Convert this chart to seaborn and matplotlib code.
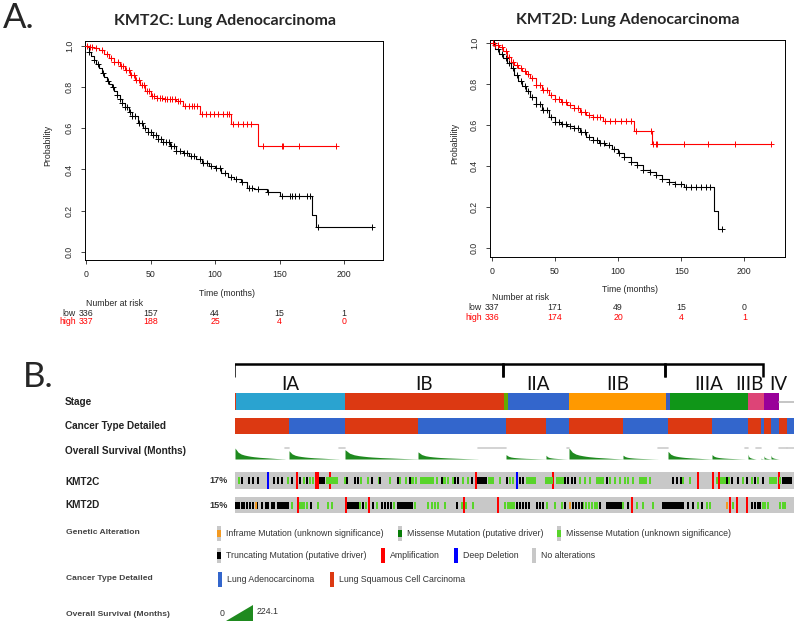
import numpy as np
import matplotlib
matplotlib.use("Agg")
import matplotlib.pyplot as plt
import seaborn as sns
from matplotlib.transforms import blended_transform_factory
from matplotlib.patches import Polygon, Rectangle

# ---------------- DATA ----------------
# Panel A: Kaplan-Meier curves (time in months, survival probability)
c_low_t = [0, 2, 4, 6, 8, 10, 12, 14, 16, 18, 20, 22, 24, 26, 28, 30, 33, 36, 40, 44, 48, 52, 56, 60, 65, 70,
           75, 80, 85, 90, 95, 100, 105, 110, 115, 120, 125, 130, 140, 150, 175, 178, 222]
c_low_s = [1.0, 0.97, 0.95, 0.93, 0.91, 0.89, 0.87, 0.85, 0.83, 0.815, 0.80, 0.78, 0.76, 0.74, 0.72, 0.705,
           0.68, 0.66, 0.625, 0.60, 0.58, 0.565, 0.55, 0.535, 0.515, 0.49, 0.48, 0.465, 0.45, 0.43, 0.415,
           0.405, 0.385, 0.365, 0.355, 0.34, 0.31, 0.305, 0.29, 0.27, 0.18, 0.12, 0.12]
c_low_cens = [2, 6, 9, 13, 17, 21, 24, 26, 28, 30, 32, 34, 36, 38, 41, 43, 46, 48, 50, 52, 54, 56, 58, 60, 62,
              64, 66, 68, 70, 73, 76, 78, 81, 84, 88, 91, 94, 97, 101, 104, 108, 112, 116, 121, 126, 129, 133,
              141, 152, 158, 160, 162, 165, 171, 174, 180, 222]
c_high_t = [0, 3, 6, 10, 14, 18, 22, 26, 30, 34, 38, 42, 46, 50, 55, 60, 70, 75, 88, 112, 133, 194]
c_high_s = [1.0, 0.995, 0.99, 0.98, 0.96, 0.94, 0.92, 0.90, 0.88, 0.86, 0.835, 0.81, 0.78, 0.755, 0.745,
            0.74, 0.73, 0.71, 0.67, 0.62, 0.515, 0.515]
c_high_cens = [1, 3, 5, 8, 12, 16, 19, 22, 25, 27, 29, 31, 33, 35, 37, 39, 41, 43, 45, 47, 49, 51, 53, 55, 57,
               59, 61, 63, 65, 67, 69, 71, 73, 77, 80, 82, 84, 86, 90, 93, 96, 99, 102, 106, 109, 111, 114,
               118, 122, 125, 128, 137, 152, 153, 165, 194]

d_low_t = [0, 3, 6, 9, 12, 15, 18, 21, 24, 27, 30, 35, 40, 45, 50, 55, 60, 65, 70, 75, 80, 85, 90, 95, 100,
           105, 110, 115, 120, 125, 130, 135, 140, 145, 152, 176, 179, 182]
d_low_s = [1.0, 0.97, 0.95, 0.93, 0.905, 0.878, 0.845, 0.815, 0.79, 0.765, 0.74, 0.705, 0.675, 0.642, 0.618,
           0.605, 0.594, 0.585, 0.569, 0.545, 0.528, 0.515, 0.504, 0.485, 0.463, 0.445, 0.423, 0.405, 0.382,
           0.37, 0.358, 0.34, 0.325, 0.315, 0.30, 0.18, 0.093, 0.093]
d_low_cens = [2, 5, 8, 11, 14, 17, 20, 23, 26, 29, 32, 35, 38, 41, 44, 47, 50, 53, 56, 59, 62, 65, 68, 71, 74,
              77, 80, 83, 86, 89, 93, 97, 101, 105, 110, 115, 120, 125, 130, 135, 140, 145, 150, 154, 158,
              162, 166, 170, 173, 182]
d_high_t = [0, 3, 6, 9, 12, 15, 18, 21, 24, 27, 30, 35, 40, 45, 50, 55, 60, 65, 70, 75, 80, 88, 113, 127, 221]
d_high_s = [1.0, 0.99, 0.98, 0.96, 0.935, 0.91, 0.895, 0.88, 0.865, 0.85, 0.83, 0.797, 0.772, 0.748, 0.727,
            0.715, 0.70, 0.683, 0.667, 0.65, 0.64, 0.623, 0.573, 0.51, 0.51]
d_high_cens = [1, 3, 5, 8, 11, 14, 17, 20, 23, 26, 29, 32, 35, 38, 41, 44, 47, 50, 53, 56, 59, 62, 65, 68, 71,
               74, 77, 80, 83, 86, 90, 94, 98, 102, 106, 110, 114, 126, 128, 130, 131, 152, 171, 193, 221]

risk_times = [0, 50, 100, 150, 200]
c_risk_low = [336, 157, 44, 15, 1]
c_risk_high = [337, 188, 25, 4, 0]
d_risk_low = [337, 171, 49, 15, 0]
d_risk_high = [336, 174, 20, 4, 1]

c_title = "KMT2C: Lung Adenocarcinoma"
d_title = "KMT2D: Lung Adenocarcinoma"
c_stats = ["HR = 0.43 (0.33 \u2212 0.56)", "logrank P = 7.3e\u221211"]
d_stats = ["HR = 0.64 (0.5 \u2212 0.82)", "logrank P = 0.00044"]

# Panel B: oncoprint (sample counts per segment, ordered as in the figure)
stage_names = ["I", "IA", "IB", "II", "IIA", "IIB", "III", "IIIA", "IIIB", "IV", "NA"]
stage_counts = [1, 109, 159, 4, 61, 97, 4, 78, 16, 15, 15]
stage_labels = ["IA", "IB", "IIA", "IIB", "IIIA", "IIIB", "IV"]
bracket_groups = [["I", "IA", "IB"], ["II", "IIA", "IIB"], ["III", "IIIA", "IIIB"]]

ctype_seq = ["S", "A", "S", "A", "S", "A", "S", "A", "S", "A", "S", "A", "S", "A", "S", "A"]
ctype_counts = [54, 56, 73, 88, 40, 23, 54, 45, 44, 36, 13, 3, 7, 8, 8, 7]
os_peak = [1.0, 0.75, 0.85, 0.65, 0.4, 0.35, 1.0, 0.35, 0.7, 0.4, 0.45, 0.1, 0.3, 0.35, 0.0, 0.0]
os_missing = [4, 6, 0, 28, 0, 2, 0, 10, 0, 3, 5, 0, 0, 0, 8, 7]
os_profile = [1.0, 0.62, 0.45, 0.36, 0.30, 0.25, 0.21, 0.18, 0.15, 0.13, 0.11, 0.09, 0.07, 0.05, 0.035, 0.02, 0.01]
os_max = 224.1

kmt2c_missense = [4, 53, 69, 75, 78, 92, 94, 96, 98, 100, 102, 110, 126, 133, 144, 155, 165, 171, 177, 178, 181,
                  186, 188, 190, 192, 194, 196, 198, 202, 208, 210, 213, 218, 228, 233, 254, 256, 258, 265, 275,
                  278, 292, 294, 296, 298, 300, 311, 313, 315, 317, 322, 324, 326, 328, 345, 350, 355, 362, 364,
                  366, 368, 375, 380, 385, 390, 393, 398, 405, 407, 409, 411, 415, 448, 455, 482, 486, 488, 490,
                  494, 508, 517, 523, 535, 537, 539, 541, 545]
kmt2c_truncating = [7, 14, 18, 23, 39, 43, 47, 57, 65, 72, 85, 87, 89, 112, 120, 123, 137, 145, 163, 175, 207,
                    220, 223, 237, 243, 245, 247, 249, 251, 272, 285, 288, 330, 333, 337, 340, 372, 438, 442,
                    446, 492, 497, 503, 512, 520, 528, 548, 550, 552, 554, 556]
kmt2c_inframe = []
kmt2c_amp = [62, 81, 83, 95, 241, 318, 463, 478, 484, 544]
kmt2c_del = [33, 282]

kmt2d_missense = [57, 65, 67, 69, 72, 83, 93, 97, 125, 131, 142, 159, 180, 193, 197, 200, 203, 210, 227, 231,
                  238, 270, 273, 275, 277, 279, 312, 320, 327, 348, 351, 354, 357, 360, 362, 388, 402, 408, 418,
                  463, 472, 475, 498, 528, 530, 533, 545, 548, 550]
kmt2d_truncating = [0, 2, 4, 7, 9, 12, 15, 18, 22, 27, 31, 33, 37, 39, 43, 45, 47, 49, 51, 53, 76, 113, 115,
                    117, 119, 121, 123, 128, 138, 147, 150, 153, 156, 163, 165, 167, 169, 171, 173, 175, 177,
                    222, 282, 285, 288, 291, 294, 302, 305, 308, 330, 338, 341, 344, 347, 365, 372, 374, 376,
                    378, 380, 382, 384, 386, 393, 428, 430, 432, 434, 436, 438, 440, 442, 444, 446, 448, 453,
                    458, 467, 517, 520, 523, 525]
kmt2d_inframe = [21, 335, 492]
kmt2d_amp = [63, 111, 134, 229, 263, 397, 495, 502, 512]
kmt2d_del = []
gene_names = ["KMT2C", "KMT2D"]
gene_pct = ["17%", "15%"]

# ---------------- STYLE ----------------
sns.set_style("ticks")
plt.rcParams["font.family"] = ["Liberation Sans", "DejaVu Sans"]

W, H = 800, 627
fig = plt.figure(figsize=(8, 6.27), dpi=100)


def px_axes(x0, y0, x1, y1):
    return fig.add_axes([x0 / W, 1 - y1 / H, (x1 - x0) / W, (y1 - y0) / H])


ov = px_axes(0, 0, W, H)
ov.set_xlim(0, W)
ov.set_ylim(H, 0)
ov.axis("off")

RED = "#ff0000"
stage_colors = {"I": "#dc3912", "IA": "#2aa3d0", "IB": "#dc3912", "II": "#66aa00", "IIA": "#3366cc",
                "IIB": "#ff9900", "III": "#3b5fc0", "IIIA": "#109618", "IIIB": "#dd4477", "IV": "#990099"}
ctype_colors = {"A": "#3366cc", "S": "#dc3912"}
MISS_C, TRUNC_C, INF_C, AMP_C, DEL_C, GRAY_C = "#58d42a", "#000000", "#f39a22", "#ff0000", "#0000ff", "#c8c8c8"
OS_C = "#1f8a1f"


def step_at(ts, ss, t):
    i = np.searchsorted(np.asarray(ts), t, side="right") - 1
    return np.asarray(ss)[i]


def km_panel(box, xlim, ylim, low, high, title, title_xy, stats, stats_xy, leg_xy, risk_low, risk_high,
             risk_y, ylab_x, xlab_y):
    ax = px_axes(*box)
    for (t, s, cens), col in ((low, "black"), (high, RED)):
        sns.lineplot(x=t, y=s, drawstyle="steps-post", estimator=None, sort=False, color=col, lw=0.8, ax=ax)
        cy = [step_at(t, s, c) for c in cens]
        sns.scatterplot(x=cens, y=cy, marker="+", s=16, linewidth=0.7, color=col, ax=ax, zorder=3)
    ax.set_xlim(*xlim)
    ax.set_ylim(*ylim)
    ax.set_xticks([0, 50, 100, 150, 200])
    ax.set_yticks([0, 0.2, 0.4, 0.6, 0.8, 1.0])
    ax.set_yticklabels(["0.0", "0.2", "0.4", "0.6", "0.8", "1.0"], rotation=90, va="center")
    ax.tick_params(length=3, width=0.6, labelsize=6.3, pad=4, direction="out")
    ax.tick_params(axis="y", pad=5)
    for sp in ax.spines.values():
        sp.set_visible(True)
        sp.set_linewidth(0.7)
        sp.set_color("black")
    ax.set_xlabel("")
    ax.set_ylabel("")
    ov.text(title_xy[0], title_xy[1], title, ha="center", va="center", fontsize=11.5,
            fontweight="bold", family=["Lato", "DejaVu Sans"])
    ov.text(ylab_x, (box[1] + box[3]) / 2 - 5, "Probability", rotation=90, ha="center", va="center",
            fontsize=6.3)
    tx = blended_transform_factory(ax.transData, ov.transData)
    ax.text(np.mean([xlim[0], 200]) + 10, xlab_y, "Time (months)", transform=tx, ha="center", va="center",
            fontsize=6.3)
    ov.text(stats_xy[0], stats_xy[1], stats[0], ha="right", va="center", fontsize=6.0)
    ov.text(stats_xy[0], stats_xy[1] + 10, stats[1], ha="right", va="center", fontsize=6.0)
    # legend
    lx, ly = leg_xy
    ov.text(lx, ly, "Expression", ha="left", va="center", fontsize=6.3)
    for k, (lab, col) in enumerate((("low", "black"), ("high", RED))):
        yy = ly + 11 + 9.5 * k
        ov.plot([lx + 5, lx + 20], [yy, yy], color=col, lw=0.8)
        ov.text(lx + 27, yy, lab, ha="left", va="center", fontsize=6.3)
    # number at risk
    ax.text(0, risk_y[0], "Number at risk", transform=tx, ha="left", va="center", fontsize=6.3)
    ax.text(-8, risk_y[1], "low", transform=tx, ha="right", va="center", fontsize=6.3)
    ax.text(-8, risk_y[2], "high", transform=tx, ha="right", va="center", fontsize=6.3, color=RED)
    for t, a, b in zip(risk_times, risk_low, risk_high):
        ax.text(t, risk_y[1], str(a), transform=tx, ha="center", va="center", fontsize=6.3)
        ax.text(t, risk_y[2], str(b), transform=tx, ha="center", va="center", fontsize=6.3, color=RED)
    return ax


km_panel((85, 41, 383, 260), (-0.8, 230.2), (-0.039, 1.023),
         (c_low_t, c_low_s, c_low_cens), (c_high_t, c_high_s, c_high_cens),
         c_title, (225, 21), c_stats, (377, 49), (90, 229), c_risk_low, c_risk_high,
         (303, 313, 322), 48, 293)
km_panel((490, 40, 785, 257), (-1.35, 232.2), (-0.043, 1.016),
         (d_low_t, d_low_s, d_low_cens), (d_high_t, d_high_s, d_high_cens),
         d_title, (628, 20), d_stats, (778, 46), (496, 226), d_risk_low, d_risk_high,
         (298, 308, 317), 455, 289)

ov.text(3, 18, "A.", ha="left", va="center", fontsize=25, family=["Lato", "DejaVu Sans"])
ov.text(23, 377, "B.", ha="left", va="center", fontsize=25, family=["Lato", "DejaVu Sans"])

# ---------------- ONCOPRINT ----------------
N = sum(stage_counts)
op = px_axes(235, 345, 794, 520)
op.set_xlim(0, N)
op.set_ylim(520, 345)
op.axis("off")

STAGE_Y, CT_Y, OS_BASE, OS_H = (393, 410), (418, 434), 459, 11
TRACK_Y = [(472, 489), (497, 513)]

st_start = np.concatenate([[0], np.cumsum(stage_counts)[:-1]])
st_pos = {n: (s, c) for n, s, c in zip(stage_names, st_start, stage_counts)}
for n, s, c in zip(stage_names, st_start, stage_counts):
    if n == "NA":
        op.plot([s, s + c], [401.5, 401.5], color="#bbbbbb", lw=1.2)
    else:
        op.barh((STAGE_Y[0] + STAGE_Y[1]) / 2, c, left=s, height=STAGE_Y[1] - STAGE_Y[0],
                color=stage_colors[n], edgecolor="none")

label_shift = {"IIIB": -7, "IV": 7}
for lab in stage_labels:
    s, c = st_pos[lab]
    op.text(s + c / 2 + label_shift.get(lab, 0), 384, lab, ha="center", va="center", fontsize=13.5,
            family=["Lato", "DejaVu Sans"], color="#111111")

for grp in bracket_groups:
    s0 = st_pos[grp[0]][0]
    s1 = st_pos[grp[-1]][0] + st_pos[grp[-1]][1]
    op.plot([s0 - 1.5, s0 - 1.5, s1 - 1.5, s1 - 1.5], [377, 364.5, 364.5, 377], color="black", lw=1.8,
            solid_joinstyle="miter", solid_capstyle="butt")

ct_start = np.concatenate([[0], np.cumsum(ctype_counts)[:-1]])
for typ, s, c, pk, miss in zip(ctype_seq, ct_start, ctype_counts, os_peak, os_missing):
    op.barh((CT_Y[0] + CT_Y[1]) / 2, c, left=s, height=CT_Y[1] - CT_Y[0], color=ctype_colors[typ],
            edgecolor="none")
    ndata = c - miss
    if pk > 0 and ndata > 1:
        xs = s + np.linspace(0, ndata, len(os_profile))
        ys = OS_BASE - pk * OS_H * np.asarray(os_profile)
        op.fill_between(xs, OS_BASE, ys, color=OS_C, lw=0)
    if miss > 0:
        op.plot([s + ndata, s + c], [OS_BASE - OS_H, OS_BASE - OS_H], color="#cccccc", lw=1.2)

tracks = [
    (kmt2c_missense, kmt2c_truncating, kmt2c_inframe, kmt2c_amp, kmt2c_del),
    (kmt2d_missense, kmt2d_truncating, kmt2d_inframe, kmt2d_amp, kmt2d_del),
]
for (y0, y1), (mis, trc, inf, amp, dl) in zip(TRACK_Y, tracks):
    yc, hh = (y0 + y1) / 2, y1 - y0
    op.barh(yc, N, left=0, height=hh, color=GRAY_C, edgecolor="none")
    for arr, col in ((amp, AMP_C), (dl, DEL_C)):
        if arr:
            op.bar(arr, hh, bottom=y0, width=1.6, color=col, align="center", edgecolor="none")
    for arr, col in ((mis, MISS_C), (trc, TRUNC_C), (inf, INF_C)):
        if arr:
            op.bar(arr, 7, bottom=yc - 3.5, width=1.8, color=col, align="center", edgecolor="none")

# row labels
row_labels = [("Stage", 402), ("Cancer Type Detailed", 426), ("Overall Survival (Months)", 451),
              ("KMT2C", 482), ("KMT2D", 505)]
for txt, yy in row_labels:
    ov.text(65, yy, txt, ha="left", va="center", fontsize=7.2, fontweight="bold", color="#222222")
for pct, (y0, y1) in zip(gene_pct, TRACK_Y):
    ov.text(228, (y0 + y1) / 2, pct, ha="right", va="center", fontsize=6.6, fontweight="bold",
            color="#333333")

for txt, yy in (("Genetic Alteration", 532), ("Cancer Type Detailed", 578), ("Overall Survival (Months)", 614)):
    ov.text(66, yy, txt, ha="left", va="center", fontsize=6.1, fontweight="bold", color="#444444")


def glyph(x, yc, kind, col):
    ov.add_patch(Rectangle((x - 2, yc - 7.5), 4, 15, color=GRAY_C if kind != "full" else col, lw=0))
    if kind == "mid":
        ov.add_patch(Rectangle((x - 2, yc - 3.5), 4, 7, color=col, lw=0))


leg_rows = [
    (533, [(219, "mid", INF_C, "Inframe Mutation (unknown significance)"),
           (400, "mid", "#087d08", "Missense Mutation (putative driver)"),
           (559, "mid", MISS_C, "Missense Mutation (unknown significance)")]),
    (555, [(219, "mid", TRUNC_C, "Truncating Mutation (putative driver)"),
           (383, "full", AMP_C, "Amplification"),
           (456, "full", DEL_C, "Deep Deletion"),
           (534, "none", GRAY_C, "No alterations")]),
    (579, [(220, "full", ctype_colors["A"], "Lung Adenocarcinoma"),
           (332, "full", ctype_colors["S"], "Lung Squamous Cell Carcinoma")]),
]
for yy, items in leg_rows:
    for x, kind, col, txt in items:
        glyph(x, yy, kind, col)
        ov.text(x + 7, yy, txt, ha="left", va="center", fontsize=6.3, color="#333333")

ov.text(224, 613, "0", ha="right", va="center", fontsize=6.3, color="#333333")
ov.add_patch(Polygon([(226, 621), (253, 621), (253, 605)], closed=True, color=OS_C, lw=0))
ov.text(257, 612, f"{os_max:.1f}", ha="left", va="center", fontsize=6.3, color="#333333")

fig.savefig("out.png", dpi=100)
